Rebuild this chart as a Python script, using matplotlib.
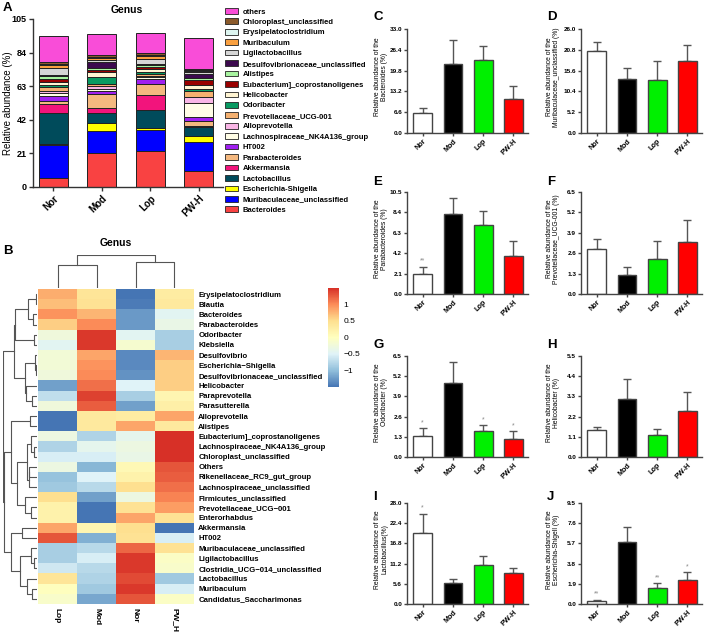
import matplotlib
matplotlib.use("Agg")
import matplotlib.pyplot as plt
import numpy as np
from matplotlib.patches import Patch
from matplotlib.colors import LinearSegmentedColormap

plt.rcParams['font.family'] = ['Liberation Sans', 'DejaVu Sans']

W, H = 708, 639

# ---------------- panel A data (stack order bottom -> top) ----------------
groups = ['Nor', 'Mod', 'Lop', 'PW-H']
genera = ['Bacteroides', 'Muribaculaceae_unclassified', 'Escherichia-Shigella',
          'Lactobacillus', 'Akkermansia', 'Parabacteroides', 'HT002',
          'Lachnospiraceae_NK4A136_group', 'Alloprevotella', 'Prevotellaceae_UCG-001',
          'Odoribacter', 'Helicobacter', 'Eubacterium]_coprostanoligenes', 'Alistipes',
          'Desulfovibrionaceae_unclassified', 'Ligilactobacillus', 'Muribaculum',
          'Erysipelatoclostridium', 'Chloroplast_unclassified', 'others']
genus_colors = ['#F94242', '#0000FF', '#FFFF00', '#004B5B', '#F2147C', '#F4B87F',
                '#A020F0', '#FFFDE6', '#F9B6E6', '#F4B070', '#089A62', '#FFF4D2',
                '#990000', '#A8F4A0', '#3C0A4E', '#D6D6D6', '#F9A040', '#DDF5F0',
                '#8B5A2B', '#F94DD8']
abund_nor = [5.8, 20.7, 0.3, 19.5, 5.8, 1.7, 3.2, 1.7, 1.6, 2.3, 1.4, 1.4,
             2.2, 1.5, 1.2, 4.0, 1.8, 1.0, 0.9, 16.3]
abund_mod = [21.2, 13.6, 5.4, 6.0, 3.4, 8.3, 2.0, 1.5, 1.5, 1.5, 4.5, 3.0,
             1.3, 1.2, 3.5, 1.5, 1.2, 0.8, 0.8, 13.2]
abund_lop = [22.3, 13.5, 1.1, 11.4, 9.2, 7.1, 3.2, 0.8, 1.0, 1.0, 1.5, 1.8,
             1.0, 1.2, 1.0, 3.0, 1.8, 0.8, 0.8, 12.8]
abund_pwh = [10.0, 17.9, 3.8, 5.5, 0.8, 3.4, 2.5, 8.3, 4.2, 3.3, 1.5, 2.5,
             3.0, 1.3, 2.7, 1.0, 0.8, 0.5, 1.0, 19.1]

# ---------------- panel B data (row z-scores, columns Lop, Mod, Nor, PW_H) ----------------
hm_cols = ['Lop', 'Mod', 'Nor', 'PW_H']
hm_rows = ['Erysipelatoclostridium', 'Blautia', 'Bacteroides', 'Parabacteroides',
           'Odoribacter', 'Klebsiella', 'Desulfovibrio', 'Escherichia\u2212Shigella',
           'Desulfovibrionaceae_unclassified', 'Helicobacter', 'Paraprevotella',
           'Parasutterella', 'Alloprevotella', 'Alistipes', 'Eubacterium]_coprostanoligenes',
           'Lachnospiraceae_NK4A136_group', 'Chloroplast_unclassified', 'Others',
           'Rikenellaceae_RC9_gut_group', 'Lachnospiraceae_unclassified',
           'Firmicutes_unclassified', 'Prevotellaceae_UCG\u2212001', 'Enterorhabdus',
           'Akkermansia', 'HT002', 'Muribaculaceae_unclassified', 'Ligilactobacillus',
           'Clostridia_UCG\u2212014_unclassified', 'Lactobacillus', 'Muribaculum',
           'Candidatus_Saccharimonas']
hm_lop = [0.8, 0.7, 0.95, 0.6, -0.25, -0.45, -0.2, -0.2, -0.25, -1.2, -0.7, -0.25,
          -1.5, -1.5, -0.3, -0.8, -0.55, -0.3, -0.95, -0.9, 0.5, 0.2, 0.2,
          0.85, 1.3, -0.85, -0.85, -0.6, 0.4, 0.0, -0.1]
hm_mod = [0.4, 0.45, 0.75, 1.0, 1.45, 1.45, 0.85, 0.95, 1.0, 1.15, 1.4, 1.25,
          0.35, 0.35, -0.8, -0.4, -0.55, -1.05, -0.5, -0.75, -1.2, -1.5, -1.5,
          0.15, -1.1, -0.75, -0.55, -0.75, -0.8, -0.9, -1.15]
hm_nor = [-1.5, -1.45, -1.25, -1.25, -0.45, -0.15, -1.35, -1.35, -1.3, -0.5, -0.85, -1.2,
          0.3, 0.85, -0.4, -0.3, -0.35, 0.1, 0.2, 0.5, -0.3, 0.45, 0.85,
          0.5, 0.45, 1.2, 1.45, 1.45, 1.35, 1.45, 1.3]
hm_pwh = [0.3, 0.35, -0.45, -0.35, -0.85, -0.85, 0.75, 0.6, 0.6, 0.6, 0.15, 0.25,
          0.85, 0.35, 1.5, 1.5, 1.5, 1.3, 1.25, 1.15, 1.05, 0.9, 0.45,
          -1.5, -0.55, 0.45, -0.05, -0.1, -0.9, -0.55, -0.05]
# clustering topology (leaf indices in display order)
row_tree = ((((((0, 1), (2, 3)), (4, 5)), ((6, (7, 8)), (9, (10, 11)))),
            (((12, 13), (((14, (15, 16)), ((17, 18), 19)), (20, (21, 22)))),
             ((23, 24), ((25, (26, 27)), (28, (29, 30)))))))
col_tree = ((0, 1), (2, 3))

# ---------------- panels C-J data ----------------
bar_colors = ['white', 'black', '#00F000', '#FF0000']
bact_mean = [6.4, 21.9, 23.1, 10.7]
bact_err = [1.5, 7.5, 4.6, 4.2]
muri_mean = [20.6, 13.6, 13.3, 18.0]
muri_err = [2.1, 2.6, 4.8, 3.9]
parab_mean = [2.07, 8.23, 7.09, 3.92]
parab_err = [0.72, 1.67, 1.41, 1.52]
prev_mean = [2.89, 1.24, 2.24, 3.31]
prev_err = [0.61, 0.50, 1.11, 1.41]
odori_mean = [1.34, 4.74, 1.65, 1.17]
odori_err = [0.51, 1.36, 0.38, 0.48]
helico_mean = [1.46, 3.16, 1.18, 2.50]
helico_err = [0.18, 1.09, 0.32, 1.04]
lacto_mean = [19.8, 5.9, 10.9, 8.5]
lacto_err = [5.2, 1.1, 2.5, 1.4]
esch_mean = [0.31, 5.83, 1.50, 2.23]
esch_err = [0.09, 1.37, 0.47, 0.75]


def rect(l, t, r, b):
    return [l / W, 1 - b / H, (r - l) / W, (b - t) / H]


def ftext(x, y, s, **kw):
    fig.text(x / W, 1 - y / H, s, **kw)


fig = plt.figure(figsize=(W / 100, H / 100), dpi=100)

# ================= A: stacked bars =================
axA = fig.add_axes(rect(33, 19, 223, 187))
stack = np.array([abund_nor, abund_mod, abund_lop, abund_pwh])
xA = np.arange(len(groups))
bottom = np.zeros(len(groups))
for i, g in enumerate(genera):
    axA.bar(xA, stack[:, i], 0.6, bottom=bottom, color=genus_colors[i],
            edgecolor='#222222', linewidth=0.7)
    bottom += stack[:, i]
axA.set_xlim(-0.42, 3.5)
axA.set_ylim(0, 105)
axA.set_yticks(np.arange(0, 106, 21))
axA.set_yticklabels([str(v) for v in range(0, 106, 21)], fontsize=6.5, fontweight='bold')
axA.set_xticks(xA)
axA.set_xticklabels(groups, rotation=45, ha='right', rotation_mode='anchor',
                    fontsize=7, fontweight='bold')
for s in ['top', 'right']:
    axA.spines[s].set_visible(False)
for s in ['left', 'bottom']:
    axA.spines[s].set_linewidth(1.0)
    axA.spines[s].set_color('#333333')
axA.tick_params(length=3, width=1, pad=1.5, colors='#333333', labelcolor='black')
ftext(8, 103, 'Relative abundance (%)', fontsize=7, rotation=90, ha='center', va='center')
ftext(127, 10, 'Genus', fontsize=7.5, fontweight='bold', ha='center', va='center')
ftext(3, 2, 'A', fontsize=9.5, fontweight='bold', va='top')

handles = [Patch(facecolor=c, edgecolor='#222222', linewidth=0.6, label=g)
           for g, c in zip(genera, genus_colors)][::-1]
fig.legend(handles=handles, loc='upper left', bbox_to_anchor=(222 / W, 1 - 5 / H),
           frameon=False, prop={'size': 5.5, 'weight': 'bold'}, handlelength=1.7,
           handleheight=0.75, labelspacing=0.39, handletextpad=0.6, borderaxespad=0)

# ================= B: heatmap =================
Z = np.array([hm_lop, hm_mod, hm_nor, hm_pwh]).T
cmap = LinearSegmentedColormap.from_list(
    'pheat', ['#4575B4', '#91BFDB', '#E0F3F8', '#FFFFBF', '#FEE090', '#FC8D59', '#D73027'])
axH = fig.add_axes(rect(38, 289, 194, 604))
im = axH.imshow(Z, aspect='auto', cmap=cmap, vmin=-1.5, vmax=1.5, interpolation='nearest')
axH.yaxis.tick_right()
axH.set_yticks(np.arange(len(hm_rows)))
axH.set_yticklabels(hm_rows, fontsize=5.6, fontweight='bold')
axH.set_xticks(np.arange(len(hm_cols)))
axH.set_xticklabels(hm_cols, rotation=270, fontsize=6, fontweight='bold', va='top')
axH.tick_params(length=0, pad=3)
for s in axH.spines.values():
    s.set_visible(False)


def leaves(node):
    if isinstance(node, int):
        return [node]
    return leaves(node[0]) + leaves(node[1])


def draw_tree(ax, node, data, vertical):
    if isinstance(node, int):
        return float(node), 0.0
    p1, h1 = draw_tree(ax, node[0], data, vertical)
    p2, h2 = draw_tree(ax, node[1], data, vertical)
    m = data[leaves(node)]
    d = np.sqrt(((m[:, None, :] - m[None, :, :]) ** 2).sum(-1))
    h = d.max()
    if vertical:
        ax.plot([p1, p1, p2, p2], [h1, h, h, h2], color='#555555', lw=0.8)
    else:
        ax.plot([h1, h, h, h2], [p1, p1, p2, p2], color='#555555', lw=0.8)
    return (p1 + p2) / 2, h


axRD = fig.add_axes(rect(3, 289, 37, 604))
_, hr = draw_tree(axRD, row_tree, Z, False)
axRD.set_ylim(len(hm_rows) - 0.5, -0.5)
axRD.set_xlim(hr * 1.01, 0)
axRD.axis('off')

axCD = fig.add_axes(rect(38, 255, 194, 288))
_, hc = draw_tree(axCD, col_tree, Z.T, True)
axCD.set_xlim(-0.5, 3.5)
axCD.set_ylim(0, hc * 1.01)
axCD.axis('off')

cax = fig.add_axes(rect(328, 288, 339, 387))
cb = fig.colorbar(im, cax=cax, ticks=[-1, -0.5, 0, 0.5, 1])
cb.outline.set_visible(False)
cb.ax.set_yticklabels(['\u22121', '\u22120.5', '0', '0.5', '1'], fontsize=6)
cb.ax.tick_params(length=0, pad=3)
ftext(116, 243, 'Genus', fontsize=7.5, fontweight='bold', ha='center', va='center')
ftext(3, 245, 'B', fontsize=9.5, fontweight='bold', va='top')

# ================= C-J: bar panels =================
panels = [
    ('C', 'Bacteroides (%)', bact_mean, bact_err, 33.0, 0, 0, {}),
    ('D', 'Muribaculaceae_unclassified (%)', muri_mean, muri_err, 26.0, 1, 0, {}),
    ('E', 'Parabacteroides (%)', parab_mean, parab_err, 10.5, 0, 1, {0: '**'}),
    ('F', 'Prevotellaceae_UCG-001 (%)', prev_mean, prev_err, 6.5, 1, 1, {}),
    ('G', 'Odoribacter (%)', odori_mean, odori_err, 6.5, 0, 2, {0: '*', 2: '*', 3: '*'}),
    ('H', 'Helicobacter (%)', helico_mean, helico_err, 5.5, 1, 2, {}),
    ('I', 'Lactobacillus(%)', lacto_mean, lacto_err, 28.0, 0, 3, {0: '*'}),
    ('J', 'Escherichia-Shigell (%)', esch_mean, esch_err, 9.5, 1, 3, {0: '**', 2: '**', 3: '*'}),
]
col_left = [407, 581]
col_right = [528, 702]
row_top = [29, 192, 356, 503]
row_bot = [133, 294, 457, 604]
letter_y = [11, 176, 339, 491]
ylab_x = [381, 553]

xb = np.arange(len(groups))
for letter, lab, mean, err, ymax, ci, ri, marks in panels:
    ax = fig.add_axes(rect(col_left[ci], row_top[ri], col_right[ci], row_bot[ri]))
    ax.errorbar(xb, mean, yerr=[np.zeros(4), err], fmt='none', ecolor='#555555',
                elinewidth=1.0, capsize=3, capthick=1.0, zorder=1)
    ax.bar(xb, mean, 0.62, color=bar_colors, edgecolor='#444444', linewidth=1.0, zorder=2)
    ax.set_xlim(-0.52, 3.48)
    ax.set_ylim(0, ymax)
    ticks = np.linspace(0, ymax, 6)
    ax.set_yticks(ticks)
    ax.set_yticklabels(['%.1f' % t for t in ticks], fontsize=4.6, fontweight='bold')
    ax.set_xticks(xb)
    ax.set_xticklabels(groups, rotation=45, ha='right', rotation_mode='anchor',
                       fontsize=5.2, fontweight='bold')
    for s in ['top', 'right']:
        ax.spines[s].set_visible(False)
    for s in ['left', 'bottom']:
        ax.spines[s].set_linewidth(1.0)
        ax.spines[s].set_color('#444444')
    ax.tick_params(length=2.5, width=1, pad=1.0, colors='#444444', labelcolor='black')
    for k, m in marks.items():
        ax.text(xb[k], mean[k] + err[k] + ymax * 0.02, m, ha='center', va='bottom',
                fontsize=5, color='#888888')
    ftext(col_left[ci] - 34, letter_y[ri], letter, fontsize=9.5, fontweight='bold', va='top')
    ftext(ylab_x[ci], (row_top[ri] + row_bot[ri]) / 2 - 4,
          'Relative abundance of the\n' + lab, rotation=90, ha='center', va='center',
          fontsize=4.9, linespacing=1.1)

fig.savefig('out.png', dpi=100)
